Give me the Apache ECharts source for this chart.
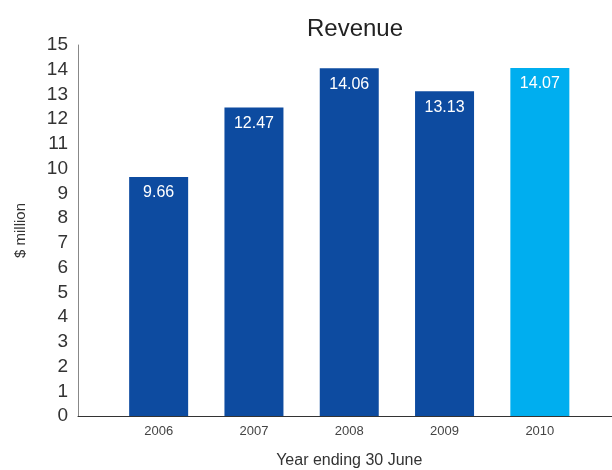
<!DOCTYPE html>
<html>
<head>
<meta charset="utf-8">
<script src="https://cdn.jsdelivr.net/npm/echarts@6/dist/echarts.min.js"></script>
<style>html,body{margin:0;padding:0;background:#fff}#c{width:612px;height:470px}</style>
</head>
<body>
<div id="c"></div>
<script>
var categories = ['2006', '2007', '2008', '2009', '2010'];
var revenue = [9.66, 12.47, 14.06, 13.13, 14.07];
var yTicks = [0, 15, 1];
var colorsByBar = ['#0D4BA0', '#0D4BA0', '#0D4BA0', '#0D4BA0', '#00AEEF'];

var font = 'Liberation Sans';
var chart = echarts.init(document.getElementById('c'), null, {renderer: 'canvas'});
chart.setOption({
  animation: false,
  textStyle: {fontFamily: font},
  title: {
    text: 'Revenue', left: 350, top: 12, textAlign: 'center',
    textStyle: {fontFamily: font, fontSize: 24, fontWeight: 'normal', color: '#222'}
  },
  grid: [
    {left: 78, right: 0, top: 45, bottom: 54, containLabel: false, outerBoundsMode: 'none'},
    {left: 111, right: 24.5, top: 45, bottom: 54, containLabel: false, outerBoundsMode: 'none'}
  ],
  xAxis: [
    {gridIndex: 0, type: 'value', min: 0, max: 1, axisLine: {show: true, lineStyle: {color: '#333', width: 1}},
     axisTick: {show: false}, axisLabel: {show: false}, splitLine: {show: false}},
    {gridIndex: 1, type: 'category', data: categories, axisLine: {show: false}, axisTick: {show: false},
     axisLabel: {fontFamily: font, fontSize: 13, color: '#444', margin: 9},
     name: 'Year ending 30 June', nameLocation: 'middle', nameGap: 37,
     nameTextStyle: {fontFamily: font, fontSize: 16, color: '#333'}}
  ],
  yAxis: [
    {gridIndex: 0, type: 'value', min: yTicks[0], max: yTicks[1], interval: yTicks[2],
     axisLine: {show: true, lineStyle: {color: '#888', width: 1}}, axisTick: {show: false},
     axisLabel: {fontFamily: font, fontSize: 19, color: '#333', margin: 10, padding: [0, 0, 5, 0]},
     splitLine: {show: false},
     name: '$ million', nameLocation: 'middle', nameGap: 50, nameRotate: 90,
     nameTextStyle: {fontFamily: font, fontSize: 15, color: '#333'}},
    {gridIndex: 1, type: 'value', min: yTicks[0], max: yTicks[1], interval: yTicks[2], show: false}
  ],
  series: [{
    type: 'bar', xAxisIndex: 1, yAxisIndex: 1, barWidth: 59,
    data: revenue.map(function (v, i) { return {value: v, itemStyle: {color: colorsByBar[i]}}; }),
    label: {show: true, position: 'insideTop', distance: 8, color: '#fff', fontFamily: font, fontSize: 16,
      formatter: function (p) { return p.value.toFixed(2); }}
  }]
});
</script>
</body>
</html>
